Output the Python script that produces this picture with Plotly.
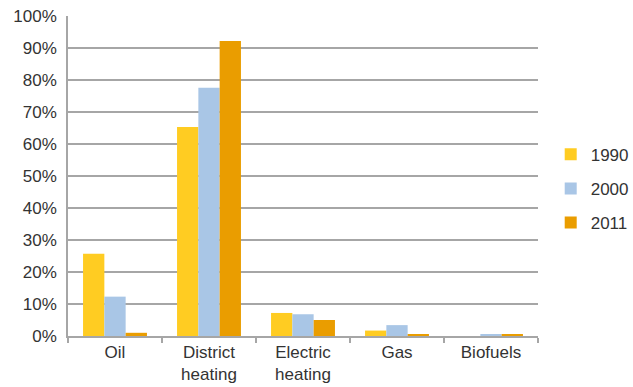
import plotly.graph_objects as go

categories = ["Oil", "District<br>heating", "Electric<br>heating", "Gas", "Biofuels"]
years = ["1990", "2000", "2011"]
v1990 = [25.7, 65.3, 7.2, 1.7, 0.0]
v2000 = [12.3, 77.6, 6.8, 3.4, 0.5]
v2011 = [1.0, 92.2, 5.0, 0.6, 0.6]
colors = ["#FFCC22", "#A9C6E6", "#EA9D00"]

fig = go.Figure()
for i, (y, vals) in enumerate(zip(years, [v1990, v2000, v2011])):
    fig.add_trace(go.Bar(x=categories, y=vals, name=y, marker_color=colors[i],
                         marker_line_width=0, legendgroup=y))

font = "Liberation Sans, Arial, sans-serif"
fig.update_layout(
    width=633, height=387,
    margin=dict(l=68, r=95, t=16, b=51, autoexpand=False),
    paper_bgcolor="white", plot_bgcolor="white",
    barmode="group", bargap=0.32, bargroupgap=0,
    font=dict(family=font, size=17, color="#333333"),
    legend=dict(x=0.870, xanchor="left", xref="container", y=0.46, yanchor="middle",
                traceorder="grouped", tracegroupgap=9, font=dict(size=17),
                itemwidth=30, bgcolor="rgba(0,0,0,0)"),
    showlegend=True,
)
fig.update_yaxes(range=[0, 100], dtick=10, ticksuffix="%", showgrid=True,
                 gridcolor="#A6A6A6", gridwidth=1.5, showline=True,
                 linecolor="#A6A6A6", linewidth=1.5, ticks="", fixedrange=True,
                 zeroline=False, ticklabelstandoff=6, automargin=False)
fig.update_xaxes(showline=True, linecolor="#A6A6A6", linewidth=1.5, ticks="outside",
                 tickson="boundaries", ticklen=5, tickcolor="#A6A6A6", tickwidth=1.5,
                 showgrid=False, automargin=False)

fig.write_html("out.html")
